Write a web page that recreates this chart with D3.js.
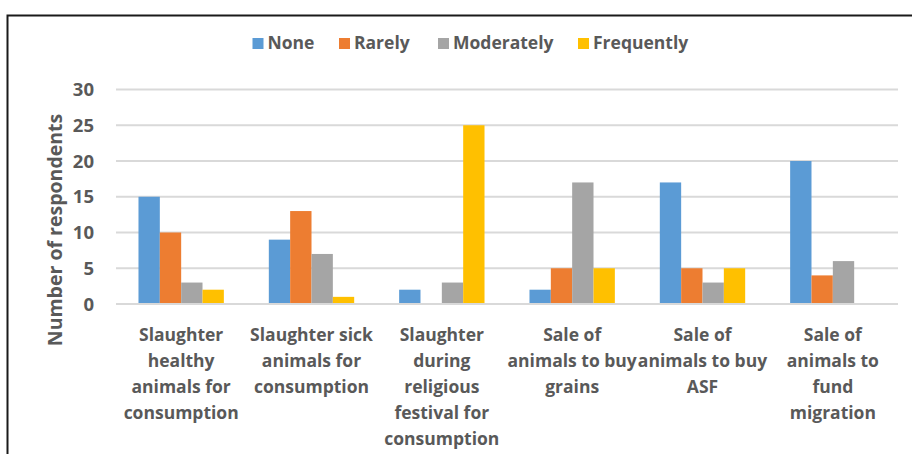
<!DOCTYPE html>
<html>
<head>
<meta charset="utf-8">
<script src="https://cdn.jsdelivr.net/npm/d3@7"></script>
<style>
  html, body { margin: 0; padding: 0; background: #fff; }
  svg { display: block; }
  text { font-family: "Open Sans", "DejaVu Sans", sans-serif; font-weight: 700; fill: #595959; }
</style>
</head>
<body>
<svg id="chart" width="912" height="454"></svg>
<script>
// ---- data ----
const categories = [
  "Slaughter\nhealthy\nanimals for\nconsumption",
  "Slaughter sick\nanimals for\nconsumption",
  "Slaughter\nduring\nreligious\nfestival for\nconsumption",
  "Sale of\nanimals to buy\ngrains",
  "Sale of\nanimals to buy\nASF",
  "Sale of\nanimals to\nfund\nmigration"
];
const seriesNames = ["None", "Rarely", "Moderately", "Frequently"];
const none       = [15, 9, 2, 2, 17, 20];
const rarely     = [10, 13, 0, 5, 5, 4];
const moderately = [3, 7, 3, 17, 3, 6];
const frequently = [2, 1, 25, 5, 5, 0];
const yTicks = [0, 5, 10, 15, 20, 25, 30];
const colors = ["#5B9BD5", "#ED7D31", "#A5A5A5", "#FFC000"];
const seriesValues = [none, rarely, moderately, frequently];

// ---- layout ----
const svg = d3.select("#chart");
const plot = { left: 116, right: 898, top: 89.5, bottom: 304 };

// frame
svg.append("rect")
  .attr("x", 7.5).attr("y", 15.5)
  .attr("width", 1000).attr("height", 1000)
  .attr("fill", "none").attr("stroke", "#1a1a1a").attr("stroke-width", 2);

const x0 = d3.scaleBand().domain(d3.range(categories.length))
  .range([plot.left, plot.right]).padding(0);
const groupW = x0.bandwidth() * 0.655;
const x1 = d3.scaleBand().domain(seriesNames).range([0, groupW]).padding(0);
const y = d3.scaleLinear().domain([0, 30]).range([plot.bottom, plot.top]);

// gridlines
svg.append("g").selectAll("line").data(yTicks).join("line")
  .attr("x1", plot.left).attr("x2", plot.right)
  .attr("y1", d => y(d)).attr("y2", d => y(d))
  .attr("stroke", "#D9D9D9").attr("stroke-width", 2);

// y tick labels
svg.append("g").selectAll("text").data(yTicks).join("text")
  .attr("x", 94).attr("y", d => y(d))
  .attr("dy", "0.36em")
  .attr("text-anchor", "end")
  .style("font-size", "18.5px")
  .text(d => d);

// y title
svg.append("text")
  .attr("transform", "translate(62, 230) rotate(-90)")
  .attr("text-anchor", "middle")
  .style("font-size", "19.5px")
  .text("Number of respondents");

// bars
const rows = [];
categories.forEach((c, i) => {
  seriesNames.forEach((s, j) => rows.push({ i, s, j, v: seriesValues[j][i] }));
});
svg.append("g").selectAll("rect").data(rows.filter(d => d.v > 0)).join("rect")
  .attr("x", d => x0(d.i) + (x0.bandwidth() - groupW) / 2 + x1(d.s))
  .attr("width", x1.bandwidth())
  .attr("y", d => y(d.v))
  .attr("height", d => y(0) - y(d.v))
  .attr("fill", d => colors[d.j]);

// redraw zero line on top
svg.append("line")
  .attr("x1", plot.left).attr("x2", plot.right)
  .attr("y1", y(0)).attr("y2", y(0))
  .attr("stroke", "#D9D9D9").attr("stroke-width", 2);

// category labels
const catG = svg.append("g").selectAll("text").data(categories).join("text")
  .attr("text-anchor", "middle")
  .style("font-size", "17.5px");
catG.each(function(c, i) {
  const t = d3.select(this);
  c.split("\n").forEach((line, k) => {
    t.append("tspan")
      .attr("x", x0(i) + x0.bandwidth() / 2)
      .attr("y", 341 + k * 25.9)
      .text(line);
  });
});

// legend
const legendX = [252.5, 339, 438, 578];
const lg = svg.append("g").selectAll("g").data(seriesNames).join("g")
  .attr("transform", (d, i) => `translate(${legendX[i]}, 38)`);
lg.append("rect").attr("width", 11).attr("height", 11)
  .attr("fill", (d, i) => colors[i]);
lg.append("text").attr("x", 15).attr("y", 11)
  .style("font-size", "17.5px")
  .text(d => d);
</script>
</body>
</html>
